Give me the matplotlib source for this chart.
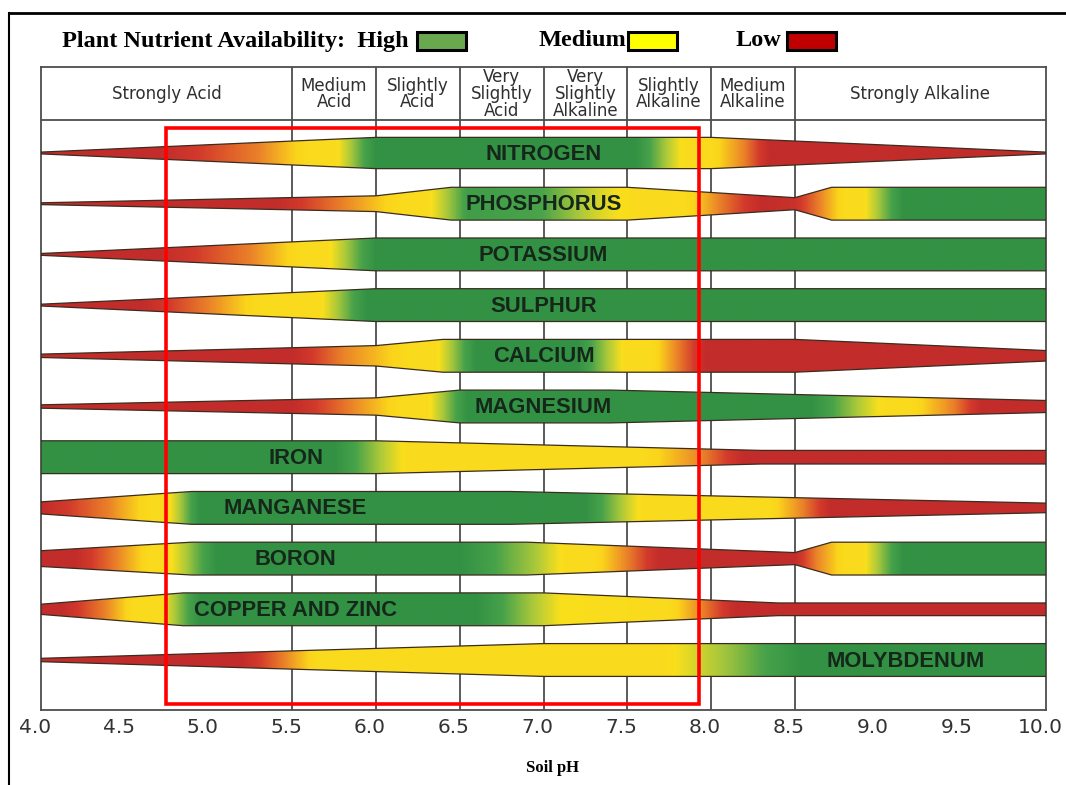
import numpy as np
import matplotlib
matplotlib.use("Agg")
import matplotlib.pyplot as plt
from matplotlib.colors import LinearSegmentedColormap
from matplotlib.patches import Polygon, Rectangle
from matplotlib.lines import Line2D
from matplotlib.transforms import ScaledTranslation

# ---------------------------------------------------------------------------
# Data: band thickness (relative, 0..1) and availability level
# (0 = low, 0.5 = medium, 1 = high) as (pH, value) break points.
# ---------------------------------------------------------------------------
NUTRIENTS = ["NITROGEN", "PHOSPHORUS", "POTASSIUM", "SULPHUR", "CALCIUM",
             "MAGNESIUM", "IRON", "MANGANESE", "BORON", "COPPER AND ZINC",
             "MOLYBDENUM"]

NITROGEN_WIDTH = [(4.0, 0.0), (6.0, 0.95), (8.0, 0.95), (10.0, 0.0)]
NITROGEN_LEVEL = [(4.0, 0), (4.7, 0), (5.3, 0.3), (5.6, 0.5), (5.75, 0.5), (6.0, 1),
                  (7.55, 1), (7.85, 0.5), (8.0, 0.5), (8.2, 0.3), (8.35, 0), (10.0, 0)]

PHOSPHORUS_WIDTH = [(4.0, 0.0), (6.0, 0.45), (6.45, 1.0), (7.5, 1.0), (8.5, 0.33),
                    (8.72, 1.0), (10.0, 1.0)]
PHOSPHORUS_LEVEL = [(4.0, 0), (5.4, 0), (5.8, 0.3), (6.15, 0.5), (6.3, 0.5), (6.55, 0.9),
                    (7.0, 0.85), (7.35, 0.6), (7.55, 0.5), (7.85, 0.5), (8.05, 0.3),
                    (8.3, 0), (8.5, 0.05), (8.65, 0.3), (8.8, 0.5), (8.9, 0.5),
                    (9.15, 1), (10.0, 1)]

POTASSIUM_WIDTH = [(4.0, 0.0), (6.0, 1.0), (10.0, 1.0)]
POTASSIUM_LEVEL = [(4.0, 0), (4.7, 0), (5.25, 0.3), (5.55, 0.5), (5.7, 0.5), (6.0, 1),
                   (10.0, 1)]

SULPHUR_WIDTH = [(4.0, 0.0), (6.0, 1.0), (10.0, 1.0)]
SULPHUR_LEVEL = [(4.0, 0), (4.6, 0), (5.0, 0.3), (5.3, 0.5), (5.65, 0.5), (5.95, 1),
                 (10.0, 1)]

CALCIUM_WIDTH = [(4.0, 0.05), (6.0, 0.6), (6.4, 1.0), (8.5, 1.0), (10.0, 0.28)]
CALCIUM_LEVEL = [(4.0, 0), (5.5, 0), (5.8, 0.3), (6.2, 0.5), (6.35, 0.5), (6.6, 1),
                 (7.2, 1), (7.5, 0.5), (7.65, 0.5), (7.8, 0.3), (7.97, 0), (10.0, 0)]

MAGNESIUM_WIDTH = [(4.0, 0.05), (6.0, 0.5), (6.5, 1.0), (7.4, 1.0), (10.0, 0.33)]
MAGNESIUM_LEVEL = [(4.0, 0), (5.5, 0), (5.85, 0.3), (6.15, 0.5), (6.3, 0.5), (6.55, 1),
                   (8.6, 1), (9.05, 0.5), (9.2, 0.5), (9.45, 0.3), (9.62, 0), (10.0, 0)]

IRON_WIDTH = [(4.0, 1.0), (6.0, 1.0), (8.3, 0.38), (10.0, 0.38)]
IRON_LEVEL = [(4.0, 1), (5.75, 1), (6.2, 0.5), (7.6, 0.5), (7.95, 0.3), (8.2, 0),
              (10.0, 0)]

MANGANESE_WIDTH = [(4.0, 0.33), (4.9, 1.0), (6.8, 1.0), (10.0, 0.25)]
MANGANESE_LEVEL = [(4.0, 0), (4.4, 0.3), (4.65, 0.5), (4.75, 0.5), (4.95, 1), (7.25, 1),
                   (7.6, 0.5), (8.35, 0.5), (8.55, 0.3), (8.72, 0), (10.0, 0)]

BORON_WIDTH = [(4.0, 0.45), (4.9, 1.0), (6.9, 1.0), (8.5, 0.33), (8.72, 1.0), (10.0, 1.0)]
BORON_LEVEL = [(4.0, 0), (4.2, 0), (4.45, 0.3), (4.65, 0.5), (4.75, 0.5), (5.05, 1),
               (6.5, 1), (6.95, 0.7), (7.15, 0.5), (7.3, 0.5), (7.5, 0.3), (7.7, 0),
               (8.5, 0), (8.63, 0.3), (8.8, 0.5), (8.9, 0.5), (9.15, 1), (10.0, 1)]

COPPER_ZINC_WIDTH = [(4.0, 0.27), (4.85, 1.0), (7.0, 1.0), (8.4, 0.35), (10.0, 0.35)]
COPPER_ZINC_LEVEL = [(4.0, 0), (4.12, 0), (4.38, 0.3), (4.55, 0.5), (4.7, 0.5), (4.95, 1),
                     (6.6, 1), (7.1, 0.55), (7.75, 0.5), (7.95, 0.3), (8.15, 0), (10.0, 0)]

MOLYBDENUM_WIDTH = [(4.0, 0.05), (5.4, 0.5), (7.0, 1.0), (10.0, 1.0)]
MOLYBDENUM_LEVEL = [(4.0, 0), (5.2, 0), (5.45, 0.3), (5.65, 0.5), (7.7, 0.5),
                    (8.15, 0.75), (8.55, 1), (10.0, 1)]

PH_TICKS = [4.0, 4.5, 5.0, 5.5, 6.0, 6.5, 7.0, 7.5, 8.0, 8.5, 9.0, 9.5, 10.0]
PH_TICK_LABELS = ["4.0", "4.5", "5.0", "5.5", "6.0", "6.5", "7.0", "7.5", "8.0",
                  "8.5", "9.0", "9.5", "10.0"]

ZONE_EDGES = [4.0, 5.5, 6.0, 6.5, 7.0, 7.5, 8.0, 8.5, 10.0]
ZONE_NAMES = ["Strongly Acid", "Medium\nAcid", "Slightly\nAcid",
              "Very\nSlightly\nAcid", "Very\nSlightly\nAlkaline",
              "Slightly\nAlkaline", "Medium\nAlkaline", "Strongly Alkaline"]

LEGEND_NAMES = ["High", "Medium", "Low"]
LEGEND_COLORS = ["#6aa84f", "#ffff00", "#c00000"]

WIDTHS = [NITROGEN_WIDTH, PHOSPHORUS_WIDTH, POTASSIUM_WIDTH, SULPHUR_WIDTH,
          CALCIUM_WIDTH, MAGNESIUM_WIDTH, IRON_WIDTH, MANGANESE_WIDTH,
          BORON_WIDTH, COPPER_ZINC_WIDTH, MOLYBDENUM_WIDTH]
LEVELS = [NITROGEN_LEVEL, PHOSPHORUS_LEVEL, POTASSIUM_LEVEL, SULPHUR_LEVEL,
          CALCIUM_LEVEL, MAGNESIUM_LEVEL, IRON_LEVEL, MANGANESE_LEVEL,
          BORON_LEVEL, COPPER_ZINC_LEVEL, MOLYBDENUM_LEVEL]

# ---------------------------------------------------------------------------
# Figure layout
# ---------------------------------------------------------------------------
W, H_PX = 1066, 785
fig = plt.figure(figsize=(W / 100, H_PX / 100), dpi=100)
fig.patch.set_facecolor("white")

ax = fig.add_axes([41 / W, 1 - 710 / H_PX, 1005 / W, 643 / H_PX])
ROW_PX = 50.7
y_top = -(153 - 67) / ROW_PX
y_bot = y_top + 643 / ROW_PX
y_head = y_top + 53 / ROW_PX

avail_cmap = LinearSegmentedColormap.from_list(
    "availability",
    [(0.0, "#c22c2a"), (0.12, "#d33a2c"), (0.3, "#ea8229"), (0.45, "#fbd51b"),
     (0.55, "#f9df1d"), (0.7, "#a9c83b"), (0.86, "#47a24a"), (1.0, "#339144")])

# grid: zone dividers and the header separator
for edge in ZONE_EDGES[1:-1]:
    ax.axvline(edge, color="#4d4d4d", lw=1.3, zorder=1)
ax.axhline(y_head, color="#4d4d4d", lw=1.3, zorder=1)
ax.hlines(range(len(NUTRIENTS)), 4.0, 10.0, color="#2e2e2e", lw=1.1, zorder=2)

# nutrient bands
HALF = 15.5 / ROW_PX
xs = np.linspace(4.0, 10.0, 1201)
for i, (wprof, lprof) in enumerate(zip(WIDTHS, LEVELS)):
    wp = np.array(wprof, dtype=float)
    lp = np.array(lprof, dtype=float)
    hw = np.interp(xs, wp[:, 0], wp[:, 1]) * HALF + 0.018
    verts = np.concatenate([np.column_stack([xs, i - hw]),
                            np.column_stack([xs[::-1], (i + hw)[::-1]])])
    band = Polygon(verts, closed=True, facecolor="none", edgecolor="#3a2d20",
                   lw=0.9, zorder=4)
    ax.add_patch(band)
    lev = np.interp(xs, lp[:, 0], lp[:, 1])
    im = ax.imshow(lev[None, :], cmap=avail_cmap, vmin=0, vmax=1,
                   extent=(4.0, 10.0, i + HALF + 0.05, i - HALF - 0.05),
                   aspect="auto", interpolation="bilinear", zorder=3)
    im.set_clip_path(band)

# band names
label_ph = [7.0, 7.0, 7.0, 7.0, 7.0, 7.0, 5.52, 5.52, 5.52, 5.52, 9.16]
for i, (name, xp) in enumerate(zip(NUTRIENTS, label_ph)):
    ax.text(xp, i + 0.02, name, ha="center", va="center", fontsize=15.8,
            fontweight="bold", family="Liberation Sans", color="#15271a", zorder=6)

# header zone names
for left, right, name in zip(ZONE_EDGES[:-1], ZONE_EDGES[1:], ZONE_NAMES):
    ax.text((left + right) / 2, (y_top + y_head) / 2 + 0.01, name, ha="center",
            va="center", fontsize=12, family="DejaVu Sans", color="#2f2f2f",
            linespacing=0.92, zorder=6)

# highlighted pH window
ax.add_patch(Rectangle((4.746, -0.493), 7.928 - 4.746, 10.868 + 0.493,
                       fill=False, ec="#ff0000", lw=2.6, zorder=7))

ax.set_xlim(4.0, 10.0)
ax.set_ylim(y_bot, y_top)
ax.set_yticks([])
ax.set_xticks(PH_TICKS)
ax.set_xticklabels(PH_TICK_LABELS, family="DejaVu Sans")
ax.tick_params(axis="x", length=0, pad=6, labelsize=14.5, labelcolor="#333333")
shift = ScaledTranslation(-6 / 100, 0, fig.dpi_scale_trans)
for lbl in ax.get_xticklabels():
    lbl.set_transform(lbl.get_transform() + shift)
for sp in ax.spines.values():
    sp.set_color("#4d4d4d")
    sp.set_linewidth(1.3)

# legend line above the chart
title_y = 1 - 41 / H_PX
title_font = dict(fontsize=17.5, fontweight="bold", family="Liberation Serif",
                  va="center")
fig.text(62 / W, title_y, "Plant Nutrient Availability:  " + LEGEND_NAMES[0],
         ha="left", **title_font)
fig.text(626 / W, title_y, LEGEND_NAMES[1], ha="right", **title_font)
fig.text(781 / W, title_y, LEGEND_NAMES[2], ha="right", **title_font)
for x0, color in zip([417, 628, 787], LEGEND_COLORS):
    fig.add_artist(Rectangle((x0 / W, 1 - 50 / H_PX), 49 / W, 18 / H_PX,
                             transform=fig.transFigure, facecolor=color,
                             edgecolor="black", lw=2.2))

fig.text(553 / W, 1 - 768 / H_PX, "Soil pH", fontsize=12, fontweight="bold",
         family="Liberation Serif", va="center", ha="center")

# frame lines around the figure
fig.add_artist(Line2D([9 / W, 1.0], [1 - 13 / H_PX] * 2, transform=fig.transFigure,
                      color="black", lw=2.0))
fig.add_artist(Line2D([9 / W, 9 / W], [0.0, 1 - 13 / H_PX], transform=fig.transFigure,
                      color="black", lw=1.5))

fig.savefig("out.png", dpi=100)
